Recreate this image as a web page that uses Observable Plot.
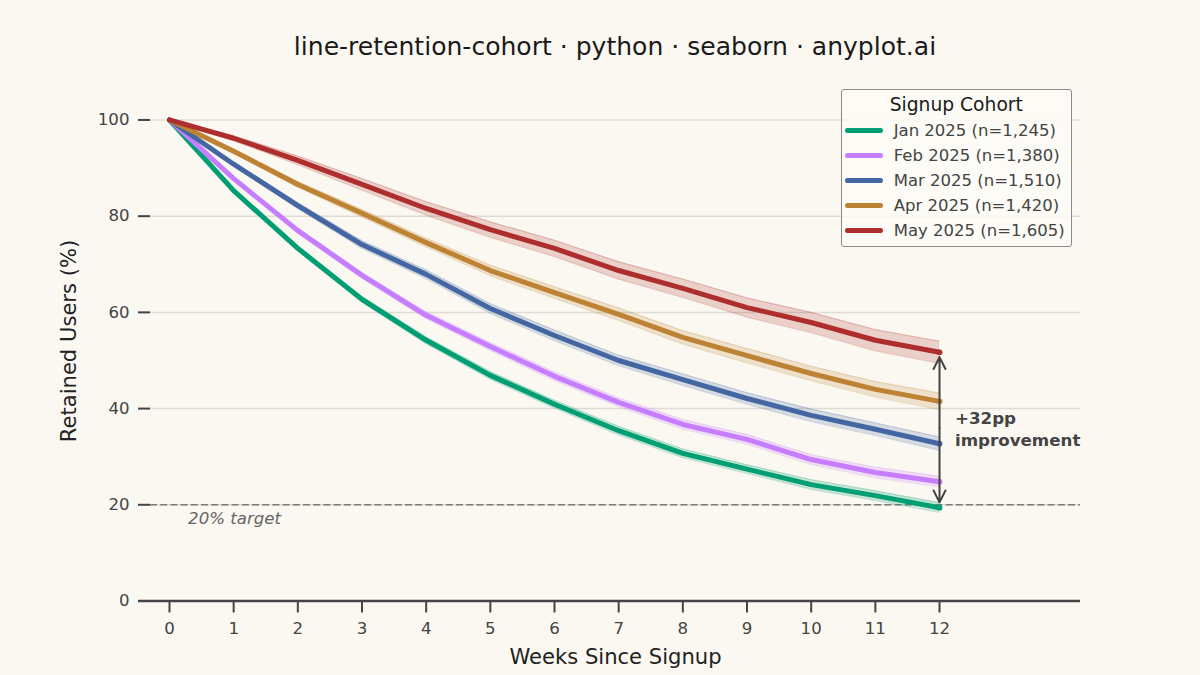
<!DOCTYPE html>
<html><head><meta charset="utf-8">
<script src="https://cdn.jsdelivr.net/npm/d3@7"></script>
<script src="https://cdn.jsdelivr.net/npm/@observablehq/plot@0.6"></script>
<style>
html,body{margin:0;padding:0;background:#faf8f1;overflow:hidden;width:1200px;height:675px;font-family:"DejaVu Sans",sans-serif;}
#wrap{position:relative;width:1200px;height:675px;}
#title{box-sizing:border-box;width:1200px;height:60px;padding-left:30px;text-align:center;font-size:25.05px;line-height:94px;color:#1a1a1a;white-space:nowrap;}
#chart svg{display:block;}
#legend{position:absolute;box-sizing:border-box;left:840.5px;top:89px;width:231.5px;height:157.5px;border:1.2px solid #8a8a86;border-radius:3px;background:rgba(253,251,245,.82);}
#legend .t{position:absolute;left:0;right:0;top:2.5px;text-align:center;font-size:18.7px;line-height:24px;color:#1a1a1a;}
#legend .r{position:absolute;left:3.2px;height:24px;display:flex;align-items:center;font-size:16.5px;color:#444;white-space:nowrap;}
#legend .s{display:inline-block;width:38px;height:4.6px;border-radius:2.3px;margin-right:11px;}
</style></head><body>
<div id="wrap">
<div id="title">line-retention-cohort · python · seaborn · anyplot.ai</div>
<div id="chart"></div>
<div id="legend"></div>
</div>
<script>
const weeks = [0,1,2,3,4,5,6,7,8,9,10,11,12];
const cohorts = ["Jan 2025","Feb 2025","Mar 2025","Apr 2025","May 2025"];
const sizes = ["1,245","1,380","1,510","1,420","1,605"];
const colors = ["#009E73","#C77DFF","#4467A3","#BD8233","#AE2D2D"];

const janValues = [100,85.3,73.3,62.7,54.2,46.9,40.9,35.4,30.7,27.4,24.2,21.9,19.4];
const febValues = [100,87.8,77.0,67.7,59.4,52.9,46.7,41.3,36.7,33.6,29.4,26.7,24.8];
const marValues = [100,90.8,82.2,74.1,67.9,60.8,55.2,50.0,46.0,42.1,38.6,35.7,32.7];
const aprValues = [100,93.5,86.6,80.6,74.5,68.7,64.1,59.6,54.8,51.0,47.3,44.0,41.5];
const mayValues = [100,96.2,91.6,86.6,81.6,77.2,73.3,68.7,65.0,61.0,57.9,54.2,51.7];

const janSpread = [0,.3,.5,.6,.7,.8,.8,.9,.9,.9,1.0,1.0,1.0];
const febSpread = [0,.3,.5,.6,.7,.8,.9,.9,1.0,1.0,1.0,1.1,1.1];
const marSpread = [0,.4,.6,.8,.9,1.0,1.1,1.1,1.2,1.2,1.3,1.3,1.4];
const aprSpread = [0,.4,.6,.8,.9,1.1,1.2,1.3,1.4,1.5,1.5,1.6,1.7];
const maySpread = [0,.5,.9,1.2,1.4,1.6,1.7,1.8,1.9,2.0,2.1,2.2,2.3];

const valueLists = [janValues,febValues,marValues,aprValues,mayValues];
const spreadLists = [janSpread,febSpread,marSpread,aprSpread,maySpread];

const yTicks = [0,20,40,60,80,100];
const gridTicks = [40,60,80,100,20];
const targetValue = [20];
const gapEnds = [50.7,20.5];
const gapMiddle = 36;

const rows = cohorts.flatMap((c,i)=>weeks.map((w,j)=>({
  cohort:c, week:w, value:valueLists[i][j],
  low:valueLists[i][j]-spreadLists[i][j], high:valueLists[i][j]+spreadLists[i][j]
})));
const lastRows = rows.filter(d=>d.week===12);
const color = {domain:cohorts, range:colors};
const ink = "#444";

const bandMarks = cohorts.flatMap((c,i)=>{
  const sub = rows.filter(d=>d.cohort===c);
  return [
    Plot.areaY(sub,{x:"week",y1:"low",y2:"high",fill:colors[i],fillOpacity:.2}),
    Plot.lineY(sub,{x:"week",y:"low",stroke:colors[i],strokeOpacity:.22,strokeWidth:1.2}),
    Plot.lineY(sub,{x:"week",y:"high",stroke:colors[i],strokeOpacity:.22,strokeWidth:1.2})
  ];
});

const chart = Plot.plot({
  width:1200, height:615,
  marginLeft:150, marginRight:120, marginTop:20.5, marginBottom:74.5,
  x:{domain:[-0.296,14.197]},
  y:{domain:[0,108.1]},
  color,
  style:{background:"transparent",fontFamily:"DejaVu Sans"},
  marks:[
    Plot.ruleY(gridTicks,{stroke:"#dedcd5",strokeWidth:1.5}),
    Plot.ruleY(targetValue,{stroke:"#7c7c78",strokeWidth:1.6,strokeDasharray:"7 3.2"}),
    ...bandMarks,
    Plot.lineY(rows,{x:"week",y:"value",z:"cohort",stroke:"cohort",strokeWidth:5,strokeLinecap:"round",strokeLinejoin:"round"}),
    Plot.dot(lastRows,{x:"week",y:"value",fill:"cohort",r:2.9}),
    Plot.arrow(gapEnds,{x1:()=>12,x2:()=>12,y1:()=>gapMiddle,y2:d=>d,bend:0,stroke:ink,strokeWidth:2,headLength:10,headAngle:53}),
    Plot.ruleY([0],{x1:-0.483,x2:14.197,stroke:ink,strokeWidth:2.4}),
    Plot.axisX({ticks:weeks,tickFormat:d=>d,tickSize:12,tickPadding:9,fontSize:16.6,strokeWidth:2,color:ink,label:null}),
    Plot.axisY({ticks:yTicks,tickSize:12,tickPadding:9,fontSize:16.6,strokeWidth:2,color:ink,label:null}),
    Plot.text(["20% target"],{x:()=>0.29,y:()=>17.2,textAnchor:"start",fontSize:16.6,fontStyle:"italic",fill:"#666"}),
    Plot.text(["+32pp\nimprovement"],{x:()=>12.24,y:()=>35.95,textAnchor:"start",fontSize:16.7,fontWeight:"bold",fill:ink,lineHeight:1.28}),
    Plot.text(["Weeks Since Signup"],{frameAnchor:"bottom",dy:62.5,fontSize:21.1,fill:"#222"}),
    Plot.text(["Retained Users (%)"],{frameAnchor:"left",textAnchor:"middle",dx:-81,rotate:-90,fontSize:21.1,fill:"#222"})
  ]
});
document.getElementById("chart").append(chart);

const legend = d3.select("#legend");
legend.append("div").attr("class","t").text("Signup Cohort");
cohorts.forEach((c,i)=>{
  const r = legend.append("div").attr("class","r").style("top",(28.5+25*i)+"px");
  r.append("span").attr("class","s").style("background",colors[i]);
  r.append("span").text(c+" (n="+sizes[i]+")");
});
</script>
</body></html>
